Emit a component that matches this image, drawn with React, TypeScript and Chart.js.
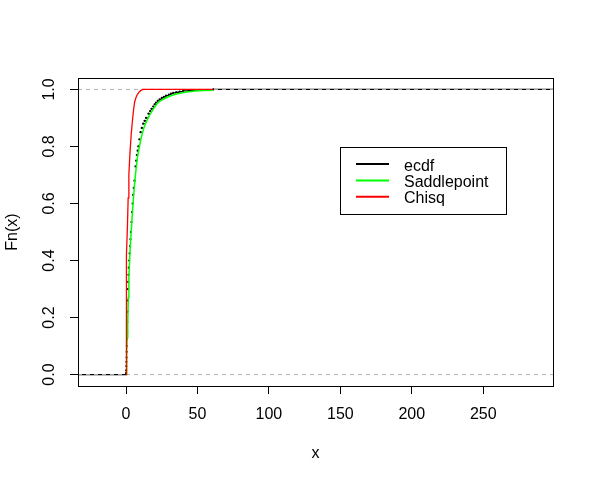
import React, { useEffect, useRef } from 'react';
import { Chart, registerables } from 'chart.js';

Chart.register(...registerables);

const X_MIN = -33.6;
const X_MAX = 298.8;
const Y_MIN = -0.04;
const Y_MAX = 1.04;
const X_TICKS = [0, 50, 100, 150, 200, 250];
const Y_TICKS = [0, 0.2, 0.4, 0.6, 0.8, 1.0];
const REF_LINES = [0, 1];

const ECDF_X = [0, 0.1, 0.2, 0.3, 0.4, 0.5, 0.6, 0.7, 0.8, 0.9, 1.0, 1.15, 1.3, 1.5, 1.7, 1.95, 2.2, 2.5, 2.8, 3.1, 3.4, 3.8, 4.2, 4.6, 5.0, 5.4, 5.9, 6.6, 7.1, 7.6, 8.1, 8.6, 9.3, 10.1, 11, 12, 13, 14, 15.7, 16.8, 17.8, 19, 20, 21, 22.2, 23.5, 25, 26.5, 28, 30, 31.5, 33, 35, 37.5, 40, 44, 47.4, 61];
const ECDF_Y = [0.005, 0.015, 0.03, 0.045, 0.06, 0.08, 0.10, 0.125, 0.15, 0.185, 0.22, 0.26, 0.30, 0.325, 0.35, 0.375, 0.40, 0.425, 0.45, 0.475, 0.50, 0.535, 0.57, 0.60, 0.63, 0.655, 0.68, 0.73, 0.75, 0.77, 0.785, 0.80, 0.825, 0.85, 0.865, 0.88, 0.89, 0.90, 0.915, 0.924, 0.932, 0.94, 0.948, 0.954, 0.96, 0.965, 0.97, 0.974, 0.978, 0.982, 0.985, 0.988, 0.99, 0.992, 0.995, 0.997, 0.998, 1.0];

const SADDLE_X = [0.3, 0.5, 0.8, 1.2, 1.6, 2.0, 2.5, 3.0, 3.6, 4.4, 5.2, 6.2, 7.0, 8.0, 9.0, 10.6, 12.5, 14.5, 16.5, 19, 22, 24, 27, 30, 34, 40, 48, 55, 61];
const SADDLE_Y = [0, 0.08, 0.13, 0.18, 0.27, 0.34, 0.40, 0.45, 0.50, 0.56, 0.62, 0.68, 0.72, 0.76, 0.79, 0.83, 0.865, 0.89, 0.91, 0.93, 0.952, 0.96, 0.968, 0.975, 0.982, 0.989, 0.994, 0.996, 0.997];

const CHISQ_X = [0, 0, 0.3, 0.6, 1.0, 1.5, 2.0, 2.8, 3.6, 4.5, 5.2, 6.0, 7.0, 8.0, 8.7, 10, 11.7, 61];
const CHISQ_Y = [0, 0.12, 0.3, 0.42, 0.52, 0.62, 0.70, 0.78, 0.84, 0.89, 0.925, 0.955, 0.972, 0.983, 0.988, 0.995, 1.0, 1.0];

const LEGEND_LABELS = ['ecdf', 'Saddlepoint', 'Chisq'];
const LEGEND_COLORS = ['#000000', '#00ff00', '#ff0000'];

const FONT = '"Liberation Sans", Arial, sans-serif';

const boxPlugin = {
  id: 'rbox',
  afterDatasetsDraw(chart: any) {
    const { ctx, chartArea } = chart;
    const l = Math.round(chartArea.left) + 0.5;
    const t = Math.round(chartArea.top) + 0.5;
    const r = Math.round(chartArea.right) + 0.5;
    const b = Math.round(chartArea.bottom) + 0.5;
    ctx.save();
    ctx.strokeStyle = '#000';
    ctx.lineWidth = 1;
    ctx.setLineDash([]);
    ctx.strokeRect(l, t, r - l, b - t);
    ctx.restore();
  },
};

const legendPlugin = {
  id: 'rlegend',
  afterDraw(chart: any) {
    const { ctx } = chart;
    const left = 340.5;
    const top = 147.5;
    const w = 166;
    const h = 67;
    ctx.save();
    ctx.setLineDash([]);
    ctx.fillStyle = '#fff';
    ctx.fillRect(left, top, w, h);
    ctx.strokeStyle = '#000';
    ctx.lineWidth = 1;
    ctx.strokeRect(left, top, w, h);
    ctx.font = `16px ${FONT}`;
    ctx.textAlign = 'left';
    ctx.textBaseline = 'alphabetic';
    LEGEND_LABELS.forEach((lab, i) => {
      const y = top + 16.5 + i * 16.4;
      ctx.strokeStyle = LEGEND_COLORS[i];
      ctx.lineWidth = 2;
      ctx.beginPath();
      ctx.moveTo(356, y);
      ctx.lineTo(389, y);
      ctx.stroke();
      ctx.fillStyle = '#000';
      ctx.fillText(lab, 404, y + 6.5);
    });
    ctx.restore();
  },
};

export default function App() {
  const ref = useRef<HTMLCanvasElement | null>(null);

  useEffect(() => {
    if (!ref.current) return;
    const pts = (xs: number[], ys: number[]) => xs.map((x, i) => ({ x, y: ys[i] }));
    // ecdf drawn as horizontal segments only (R plot.ecdf, verticals = FALSE), with points at the jumps
    const knotsX = [X_MIN, ...ECDF_X, X_MAX];
    const knotsY = [0, ...ECDF_Y];
    const ecdfData: any[] = [];
    for (let i = 0; i < knotsY.length; i++) {
      ecdfData.push({ x: knotsX[i], y: knotsY[i], knot: i > 0 });
      ecdfData.push({ x: knotsX[i + 1], y: knotsY[i], knot: false });
      ecdfData.push({ x: knotsX[i + 1], y: null, knot: false });
    }
    const refSets = REF_LINES.map((v) => ({
      label: 'ref' + v,
      data: [{ x: X_MIN, y: v }, { x: X_MAX, y: v }],
      borderColor: '#b3b3b3',
      borderWidth: 1,
      borderDash: [4, 4],
      pointRadius: 0,
      order: 2,
    }));
    const chart = new Chart(ref.current, {
      type: 'line',
      data: {
        datasets: [
          {
            label: 'Chisq',
            data: pts(CHISQ_X, CHISQ_Y),
            borderColor: '#ff0000',
            borderWidth: 1.3,
            pointRadius: 0,
            order: 0,
          },
          {
            label: 'Saddlepoint',
            data: pts(SADDLE_X, SADDLE_Y),
            borderColor: '#00ff00',
            borderWidth: 1.5,
            pointRadius: 0,
            order: 1,
          },
          ...refSets,
          {
            label: 'ecdf',
            data: ecdfData,
            borderColor: '#000000',
            borderWidth: 1.3,
            spanGaps: false,
            pointRadius: (c: any) => (c.raw && c.raw.knot ? 1.1 : 0),
            pointBackgroundColor: '#000',
            pointBorderWidth: 0,
            order: 3,
          },
        ] as any,
      },
      options: {
        animation: false,
        responsive: true,
        maintainAspectRatio: false,
        parsing: false as any,
        layout: { padding: { top: 78, right: 41, left: 0, bottom: 0 } },
        plugins: { legend: { display: false }, tooltip: { enabled: false } },
        elements: { line: { tension: 0 } },
        scales: {
          x: {
            type: 'linear',
            position: 'bottom',
            min: X_MIN,
            max: X_MAX,
            afterBuildTicks: (s: any) => {
              s.ticks = X_TICKS.map((v) => ({ value: v }));
            },
            afterFit: (s: any) => {
              s.height = 98;
            },
            ticks: {
              autoSkip: false,
              maxRotation: 0,
              minRotation: 0,
              padding: 11.4,
              color: '#000',
              font: { family: FONT, size: 16 },
              callback: (v: any) => String(v),
            },
            grid: { drawOnChartArea: false, drawTicks: true, tickLength: 8, color: '#000', tickColor: '#000', lineWidth: 1 },
            border: { display: false },
            title: { display: true, text: 'x', color: '#000', font: { family: FONT, size: 16 }, padding: { top: 0, bottom: 20.8 } },
          },
          y: {
            type: 'linear',
            position: 'left',
            min: Y_MIN,
            max: Y_MAX,
            afterBuildTicks: (s: any) => {
              s.ticks = Y_TICKS.map((v) => ({ value: v }));
            },
            afterFit: (s: any) => {
              s.width = 78;
            },
            ticks: {
              autoSkip: false,
              minRotation: 90,
              maxRotation: 90,
              crossAlign: 'center',
              padding: 9.6,
              color: '#000',
              font: { family: FONT, size: 16 },
              callback: (v: any) => Number(v).toFixed(1),
            },
            grid: { drawOnChartArea: false, drawTicks: true, tickLength: 8, color: '#000', tickColor: '#000', lineWidth: 1 },
            border: { display: false },
            title: { display: true, text: 'Fn(x)', color: '#000', font: { family: FONT, size: 16 }, padding: { top: 3, bottom: 0 } },
          },
        },
      } as any,
      plugins: [boxPlugin, legendPlugin],
    });
    return () => chart.destroy();
  }, []);

  return (
    <div style={{ position: 'fixed', left: 0, top: 0, width: 594, height: 484, background: '#fff' }}>
      <canvas ref={ref} />
    </div>
  );
}
